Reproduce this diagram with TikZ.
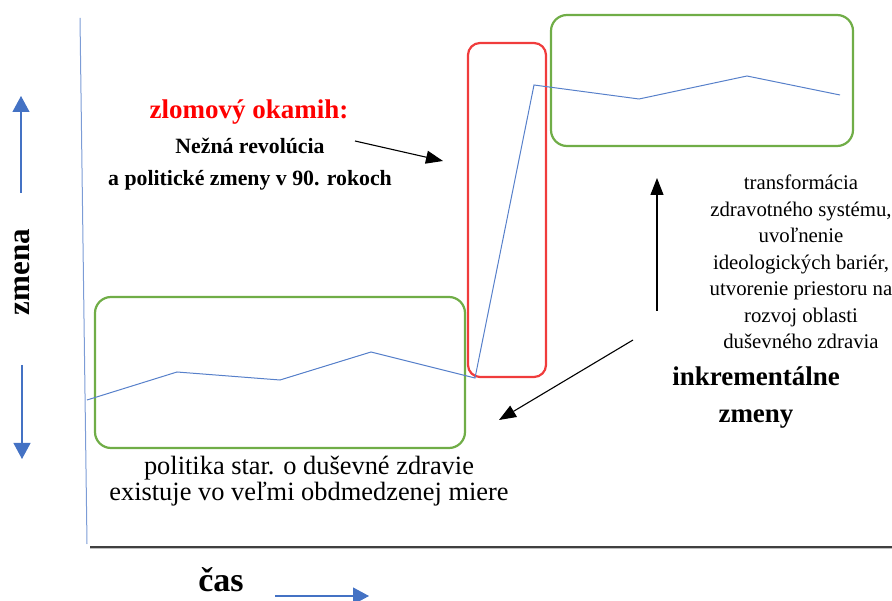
\documentclass[tikz,border=0pt]{standalone}
\usepackage{fontspec}
\setmainfont{Liberation Serif}
\usetikzlibrary{arrows.meta}
\definecolor{lblue}{RGB}{68,114,196}
\definecolor{lgreen}{RGB}{112,173,71}
\definecolor{lred}{RGB}{240,60,60}
\tikzset{
  greenbox/.style={draw=lgreen, line width=2.2pt, rounded corners=16pt},
  redbox/.style={draw=lred, line width=2.2pt, rounded corners=12pt},
  trend/.style={draw=lblue!90, line width=1pt},
  bluearrow/.style={draw=lblue, line width=1.1pt, -{Triangle[length=16pt,width=17pt]}},
  blackarrow/.style={draw=black, line width=1.1pt, -{Triangle[length=17pt,width=13pt]}},
  txt/.style={inner sep=0pt, align=center, font=\fontsize{17}{26}\selectfont},
  btxt/.style={inner sep=0pt, align=center, font=\fontsize{17}{26}\selectfont\bfseries},
}
\begin{document}
\begin{tikzpicture}[x=1pt,y=-1pt]
\useasboundingbox (0,0) rectangle (892,601);
% axes
\coordinate (ytop) at (80,18);
\coordinate (ybot) at (87,544);
\draw[lblue!70, line width=1pt] (ytop) -- (ybot);
\coordinate (xl) at (90,547);
\coordinate (xr) at (892,547);
\draw[gray!50, line width=1.5pt] ([yshift=-1.5pt]xl) -- ([yshift=-1.5pt]xr);
\draw[black!75, line width=1.2pt] (xl) -- (xr);
% side arrows
\coordinate (u1) at (21,193); \coordinate (u2) at (21,96);
\draw[bluearrow] (u1) -- (u2);
\coordinate (d1) at (22,365); \coordinate (d2) at (22,459);
\draw[bluearrow] (d1) -- (d2);
\node[btxt, font=\fontsize{31}{26}\selectfont\bfseries, rotate=90] (zmena) at (22,272) {zmena};
\node[btxt, font=\fontsize{34}{26}\selectfont\bfseries] (cas) at (221,580) {čas};
\coordinate (c1) at (275,596); \coordinate (c2) at (369,596);
\draw[bluearrow] (c1) -- (c2);
% boxes
\node[greenbox, minimum width=370pt, minimum height=151pt] (gl) at (280,372.5) {};
\node[redbox, minimum width=78pt, minimum height=334pt] (rb) at (507,210) {};
\node[greenbox, minimum width=302pt, minimum height=131pt] (gr) at (702,80.5) {};
% trend line
\draw[trend] (87,400) -- (177,372) -- (280,380) -- (371,352) -- (475,378) -- (534,85) -- (639,99) -- (747,76) -- (840,95);
% texts
\node[btxt, text=red, font=\fontsize{27}{26}\selectfont\bfseries] (zlom) at (249,112) {zlomový okamih:};
\node[btxt, font=\fontsize{21.8}{32}\selectfont\bfseries] (nez) at (250,164) {Nežná revolúcia\\a politické zmeny v 90. rokoch};
\node[txt, font=\fontsize{20.8}{26.5}\selectfont] (tr) at (801,262) {transformácia\\zdravotného systému,\\uvoľnenie\\ideologických bariér,\\utvorenie priestoru na\\rozvoj oblasti\\duševného zdravia};
\node[btxt, font=\fontsize{27}{37}\selectfont\bfseries] (ink) at (756,398) {inkrementálne\\zmeny};
\node[txt, font=\fontsize{26.4}{26}\selectfont] (pol) at (309,481) {politika star. o duševné zdravie\\existuje vo veľmi obdmedzenej miere};
% black arrows
\coordinate (a1s) at (355,141); \coordinate (a1e) at (443,161);
\draw[blackarrow] (a1s) -- (a1e);
\coordinate (a2s) at (657,311); \coordinate (a2e) at (657,178);
\draw[blackarrow] (a2s) -- (a2e);
\coordinate (a3s) at (633,340); \coordinate (a3e) at (499,420);
\draw[blackarrow] (a3s) -- (a3e);
\end{tikzpicture}
\end{document}
